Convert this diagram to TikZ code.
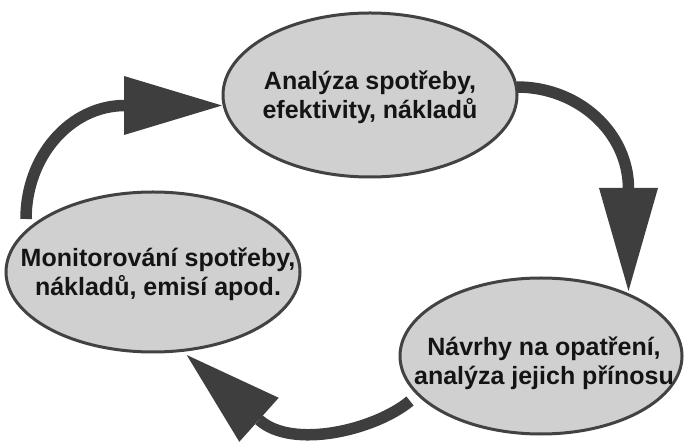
\documentclass[tikz,border=0pt]{standalone}
\usepackage{fontspec}
\setmainfont{Liberation Sans}
\usetikzlibrary{shapes.geometric}
\definecolor{ellfill}{HTML}{D0D0D0}
\definecolor{ellline}{HTML}{424242}
\definecolor{arrowc}{HTML}{3E3E3E}
\definecolor{txt}{HTML}{141414}
\begin{document}
\begin{tikzpicture}[x=1pt,y=1pt,
  phase/.style={ellipse, draw=ellline, fill=ellfill, line width=3pt, inner sep=0pt},
  phasetext/.style={align=center, text=txt, inner sep=0pt,
    font=\bfseries\fontsize{25}{29}\selectfont},
  shaft/.style={draw=arrowc, line width=11.5pt, line cap=butt},
  head/.style={fill=arrowc, draw=none}]
\useasboundingbox (0,0) rectangle (684,441);
% phases
\node[phase, minimum width=294pt, minimum height=164pt,
  label={[phasetext, name=analyzaT, yshift=-2pt]center:{Analýza spotřeby,\\efektivity, nákladů}}]
  (analyza) at (370,346) {};
\node[phase, minimum width=294pt, minimum height=160pt,
  label={[phasetext, name=monitorT, yshift=-2pt, xshift=5pt]center:{Monitorování spotřeby,\\ nákladů, emisí apod.}}]
  (monitor) at (153,169) {};
\node[phase, minimum width=282pt, minimum height=156pt,
  label={[phasetext, name=navrhyT, yshift=-7pt, xshift=3pt]center:{Návrhy na opatření,\\analýza jejich přínosu}}]
  (navrhy) at (541,85) {};
% arrow monitor -> analyza
\coordinate (a1s) at (26,222);
\draw[shaft] (a1s) arc[start angle=180, end angle=90, x radius=99, y radius=113.5] coordinate (a1e);
\coordinate (a1t) at (222,335.5);
\fill[head] (a1e) ++(-1,29.5) -- ++(0,-59) -- (a1t) -- cycle;
% arrow analyza -> navrhy
\coordinate (a2s) at (517,354);
\draw[shaft] (a2s) arc[start angle=90, end angle=0, x radius=111.5, y radius=102] coordinate (a2e);
\coordinate (a2t) at (628.5,150);
\fill[head] (a2e) ++(-29.5,1) -- ++(59,0) -- (a2t) -- cycle;
% arrow navrhy -> monitor
\coordinate (a3s) at (410,40);
\coordinate (a3e) at (259,21.2);
\coordinate (a3t) at (186.7,86);
\draw[shaft] (a3s) .. controls (375.4,11.2) and (292.5,-9) .. (a3e);
\fill[head] (278.7,43.2) -- (a3t) -- (239.3,-0.8) -- cycle;
\end{tikzpicture}
\end{document}
